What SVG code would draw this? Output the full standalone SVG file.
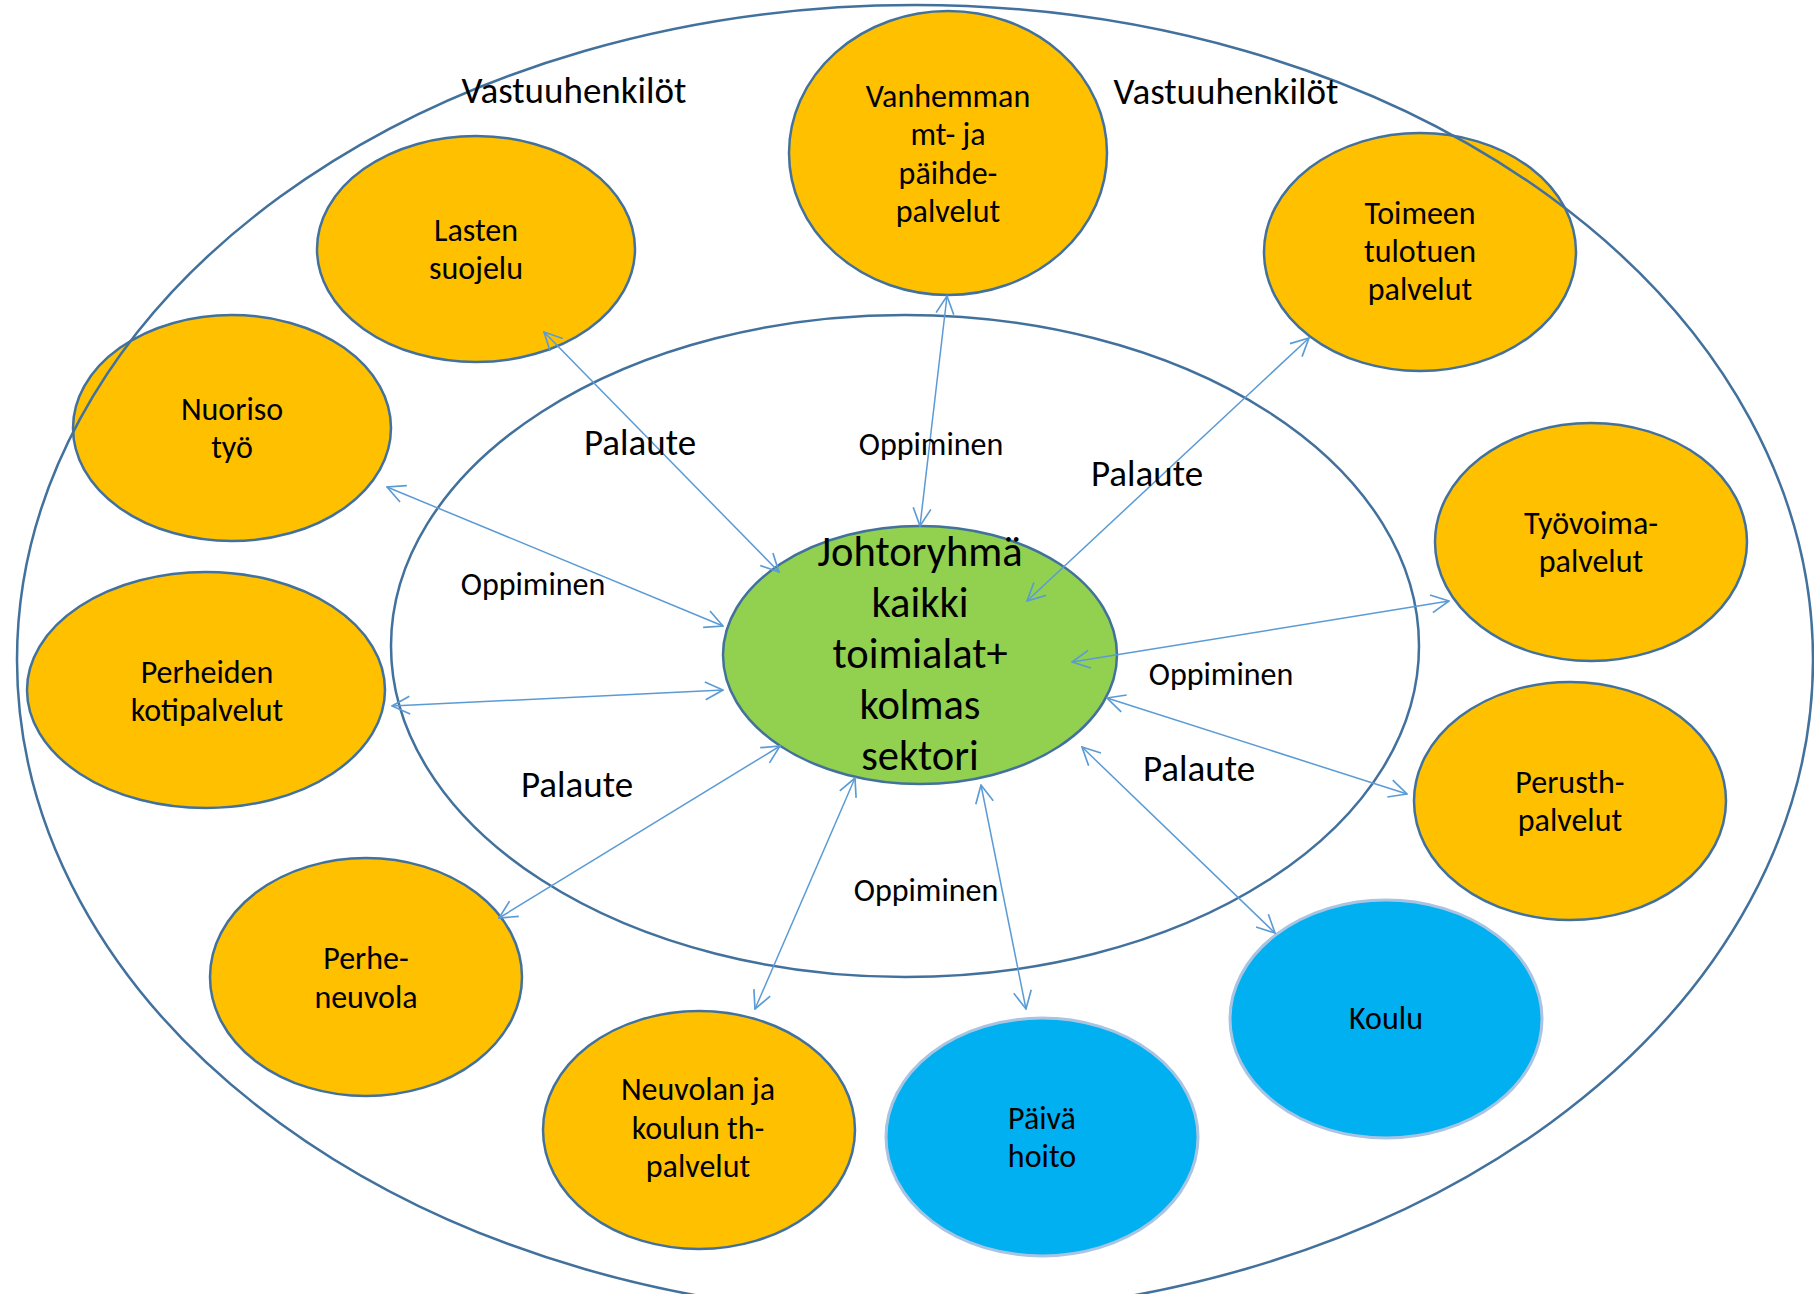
<svg xmlns="http://www.w3.org/2000/svg" width="1814" height="1294" viewBox="0 0 1814 1294">
<style>
text{font-family:Carlito,Calibri,Lato,"Open Sans",sans-serif;fill:#000;text-anchor:middle}
.n{font-size:32px}
.big{font-size:37px}
.c{font-size:42.5px}
.or{fill:#FFC000;stroke:#41719C;stroke-width:2.5}
.bl{fill:#00B0F0;stroke:#A9C4E2;stroke-width:3}
.gr{fill:#92D050;stroke:#41719C;stroke-width:2.5}
.ring{fill:none;stroke:#41719C;stroke-width:2.5}
.cn line{stroke:#5B9BD5;stroke-width:1.5;marker-start:url(#ah);marker-end:url(#ah)}
</style>
<defs>
<marker id="ah" markerUnits="userSpaceOnUse" markerWidth="20" markerHeight="20" viewBox="0 0 18 18" refX="17" refY="9" orient="auto-start-reverse">
<path d="M1,1 L17,9 L1,17" fill="none" stroke="#5B9BD5" stroke-width="1.5"/>
</marker>
</defs>
<rect width="1814" height="1294" fill="#fff"/>
<g id="center">
<ellipse class="gr" cx="920" cy="655" rx="197" ry="129"/>
<text class="c" x="920" y="566">Johtoryhmä</text>
<text class="c" x="920" y="617">kaikki</text>
<text class="c" x="920" y="668">toimialat+</text>
<text class="c" x="920" y="719">kolmas</text>
<text class="c" x="920" y="770">sektori</text>
</g>
<g id="vanhemman">
<ellipse class="or" cx="948" cy="153" rx="159" ry="142"/>
<text class="n" x="948" y="107">Vanhemman</text>
<text class="n" x="948" y="145">mt- ja</text>
<text class="n" x="948" y="184">päihde-</text>
<text class="n" x="948" y="222">palvelut</text>
</g>
<g id="lasten">
<ellipse class="or" cx="476" cy="249" rx="159" ry="113"/>
<text class="n" x="476" y="241">Lasten</text>
<text class="n" x="476" y="279">suojelu</text>
</g>
<g id="toimeen">
<ellipse class="or" cx="1420" cy="252" rx="156" ry="119"/>
<text class="n" x="1420" y="224">Toimeen</text>
<text class="n" x="1420" y="262">tulotuen</text>
<text class="n" x="1420" y="300">palvelut</text>
</g>
<g id="nuoriso">
<ellipse class="or" cx="232" cy="428" rx="159" ry="113"/>
<text class="n" x="232" y="420">Nuoriso</text>
<text class="n" x="232" y="458">työ</text>
</g>
<g id="tyovoima">
<ellipse class="or" cx="1591" cy="542" rx="156" ry="119"/>
<text class="n" x="1591" y="534">Työvoima-</text>
<text class="n" x="1591" y="572">palvelut</text>
</g>
<g id="perheiden">
<ellipse class="or" cx="206" cy="690" rx="179" ry="118"/>
<text class="n" x="207" y="683">Perheiden</text>
<text class="n" x="207" y="721">kotipalvelut</text>
</g>
<g id="perusth">
<ellipse class="or" cx="1570" cy="801" rx="156" ry="119"/>
<text class="n" x="1570" y="793">Perusth-</text>
<text class="n" x="1570" y="831">palvelut</text>
</g>
<g id="perheneuvola">
<ellipse class="or" cx="366" cy="977" rx="156" ry="119"/>
<text class="n" x="366" y="969">Perhe-</text>
<text class="n" x="366" y="1008">neuvola</text>
</g>
<g id="neuvolan">
<ellipse class="or" cx="699" cy="1130" rx="156" ry="119"/>
<text class="n" x="698" y="1100">Neuvolan ja</text>
<text class="n" x="698" y="1139">koulun th-</text>
<text class="n" x="698" y="1177">palvelut</text>
</g>
<g id="paivahoito">
<ellipse class="bl" cx="1042" cy="1137" rx="156" ry="119"/>
<text class="n" x="1042" y="1129">Päivä</text>
<text class="n" x="1042" y="1167">hoito</text>
</g>
<g id="koulu">
<ellipse class="bl" cx="1386" cy="1019" rx="156" ry="119"/>
<text class="n" x="1386" y="1029">Koulu</text>
</g>
<g id="rings">
<ellipse class="ring" cx="915" cy="660" rx="898" ry="655"/>
<ellipse class="ring" cx="905" cy="646" rx="514" ry="331"/>
<text class="big" x="574" y="103">Vastuuhenkilöt</text>
<text class="big" x="1226" y="104">Vastuuhenkilöt</text>
</g>
<g id="connectors" class="cn">
<line x1="544" y1="332" x2="779" y2="572"/>
<line x1="947" y1="296" x2="920" y2="526"/>
<line x1="1309" y1="338" x2="1027" y2="601"/>
<line x1="387" y1="487" x2="723" y2="626"/>
<line x1="392" y1="706" x2="723" y2="690"/>
<line x1="499" y1="918" x2="780" y2="746"/>
<line x1="755" y1="1009" x2="855" y2="778"/>
<line x1="1026" y1="1009" x2="981" y2="785"/>
<line x1="1275" y1="933" x2="1082" y2="747"/>
<line x1="1407" y1="794" x2="1107" y2="698"/>
<line x1="1449" y1="601" x2="1072" y2="662"/>
</g>
<g id="labels">
<text class="big" x="640" y="455">Palaute</text>
<text class="n" x="931" y="455">Oppiminen</text>
<text class="big" x="1147" y="486">Palaute</text>
<text class="n" x="533" y="595">Oppiminen</text>
<text class="n" x="1221" y="685">Oppiminen</text>
<text class="big" x="577" y="797">Palaute</text>
<text class="big" x="1199" y="781">Palaute</text>
<text class="n" x="926" y="901">Oppiminen</text>
</g>
</svg>
